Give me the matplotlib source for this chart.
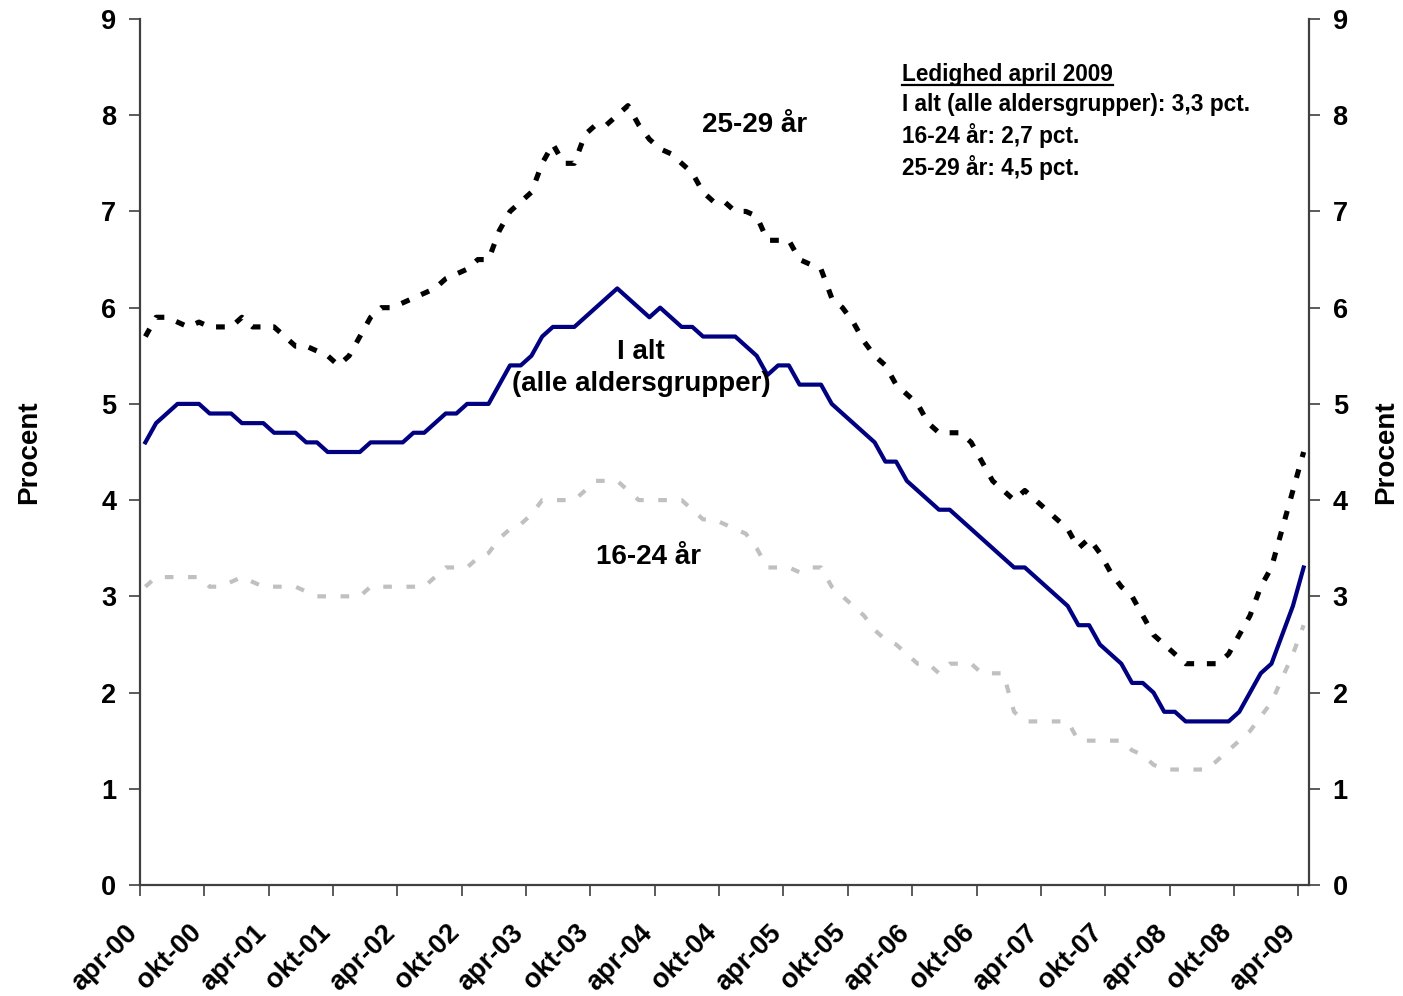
import matplotlib
matplotlib.use("Agg")
import matplotlib.pyplot as plt
import matplotlib.transforms as mtransforms
from matplotlib.lines import Line2D
import numpy as np

plt.rcParams['font.family'] = ['Liberation Sans', 'DejaVu Sans']
plt.rcParams['font.weight'] = 'bold'
plt.rcParams['lines.scale_dashes'] = False

# monthly values, apr-00 .. apr-09
total = [4.6, 4.8, 4.9, 5.0, 5.0, 5.0, 4.9, 4.9, 4.9, 4.8,
         4.8, 4.8, 4.7, 4.7, 4.7, 4.6, 4.6, 4.5, 4.5, 4.5,
         4.5, 4.6, 4.6, 4.6, 4.6, 4.7, 4.7, 4.8, 4.9, 4.9,
         5.0, 5.0, 5.0, 5.2, 5.4, 5.4, 5.5, 5.7, 5.8, 5.8,
         5.8, 5.9, 6.0, 6.1, 6.2, 6.1, 6.0, 5.9, 6.0, 5.9,
         5.8, 5.8, 5.7, 5.7, 5.7, 5.7, 5.6, 5.5, 5.3, 5.4,
         5.4, 5.2, 5.2, 5.2, 5.0, 4.9, 4.8, 4.7, 4.6, 4.4,
         4.4, 4.2, 4.1, 4.0, 3.9, 3.9, 3.8, 3.7, 3.6, 3.5,
         3.4, 3.3, 3.3, 3.2, 3.1, 3.0, 2.9, 2.7, 2.7, 2.5,
         2.4, 2.3, 2.1, 2.1, 2.0, 1.8, 1.8, 1.7, 1.7, 1.7,
         1.7, 1.7, 1.8, 2.0, 2.2, 2.3, 2.6, 2.9, 3.3]

age_25_29 = [5.7, 5.9, 5.9, 5.85, 5.8, 5.85, 5.8, 5.8, 5.8, 5.9,
             5.8, 5.8, 5.8, 5.7, 5.6, 5.6, 5.55, 5.5, 5.4, 5.5,
             5.7, 5.9, 6.0, 6.0, 6.05, 6.1, 6.15, 6.2, 6.3, 6.35,
             6.4, 6.5, 6.5, 6.8, 7.0, 7.1, 7.2, 7.5, 7.7, 7.5,
             7.5, 7.8, 7.9, 7.9, 8.0, 8.1, 7.9, 7.75, 7.65, 7.6,
             7.5, 7.4, 7.2, 7.1, 7.1, 7.0, 7.0, 6.95, 6.7, 6.7,
             6.7, 6.5, 6.45, 6.4, 6.1, 6.0, 5.85, 5.65, 5.5, 5.4,
             5.2, 5.1, 5.0, 4.8, 4.7, 4.7, 4.7, 4.6, 4.4, 4.2,
             4.1, 4.0, 4.1, 4.0, 3.9, 3.8, 3.7, 3.5, 3.6, 3.45,
             3.25, 3.1, 3.0, 2.8, 2.6, 2.5, 2.4, 2.3, 2.3, 2.3,
             2.3, 2.4, 2.6, 2.8, 3.1, 3.3, 3.7, 4.1, 4.5]

age_16_24 = [3.1, 3.2, 3.2, 3.2, 3.2, 3.2, 3.1, 3.1, 3.15, 3.2,
             3.15, 3.1, 3.1, 3.1, 3.1, 3.05, 3.0, 3.0, 3.0, 3.0,
             3.0, 3.1, 3.1, 3.1, 3.1, 3.1, 3.1, 3.2, 3.3, 3.3,
             3.3, 3.4, 3.45, 3.6, 3.7, 3.75, 3.85, 4.0, 4.0, 4.0,
             4.0, 4.1, 4.2, 4.2, 4.2, 4.1, 4.0, 4.0, 4.0, 4.0,
             4.0, 3.9, 3.8, 3.8, 3.75, 3.7, 3.65, 3.5, 3.3, 3.3,
             3.3, 3.25, 3.3, 3.3, 3.1, 3.0, 2.9, 2.8, 2.65, 2.55,
             2.5, 2.4, 2.3, 2.3, 2.2, 2.3, 2.3, 2.3, 2.2, 2.2,
             2.2, 1.8, 1.7, 1.7, 1.7, 1.7, 1.7, 1.5, 1.5, 1.5,
             1.5, 1.5, 1.4, 1.35, 1.25, 1.2, 1.2, 1.2, 1.2, 1.2,
             1.3, 1.4, 1.5, 1.6, 1.75, 1.9, 2.15, 2.4, 2.7]

tick_labels = ['apr-00', 'okt-00', 'apr-01', 'okt-01', 'apr-02', 'okt-02',
               'apr-03', 'okt-03', 'apr-04', 'okt-04', 'apr-05', 'okt-05',
               'apr-06', 'okt-06', 'apr-07', 'okt-07', 'apr-08', 'okt-08',
               'apr-09']

info_lines = ['I alt (alle aldersgrupper): 3,3 pct.',
              '16-24 år: 2,7 pct.',
              '25-29 år: 4,5 pct.']

x = np.arange(len(total))

fig = plt.figure(figsize=(14.03, 9.96), dpi=100)
ax = fig.add_axes([140 / 1403, 111 / 996, 1169 / 1403, 866 / 996])

ax.plot(x, age_16_24, color='#c0c0c0', lw=3.0, dashes=(6.2, 10.5), dash_capstyle='butt')
ax.plot(x, age_25_29, color='black', lw=3.7, dashes=(6.3, 9.2), dash_capstyle='butt')
ax.plot(x, total, color='#000080', lw=3.0)

ax.set_xlim(-0.5, len(total) - 0.5)
ax.set_ylim(0, 9)

spine_col = '#404040'
for s in ['left', 'bottom', 'right']:
    ax.spines[s].set_color(spine_col)
    ax.spines[s].set_linewidth(1.6)
ax.spines['top'].set_visible(False)

# labels sit on the category, tick marks between categories
ax.set_xticks(np.arange(0, len(total), 6))
ax.set_xticklabels(tick_labels, rotation=45, ha='right', rotation_mode='anchor', fontsize=19.5)
ax.tick_params(axis='x', which='major', length=0, pad=25)
ax.set_xticks(np.arange(-0.5, len(total), 6), minor=True)
ax.tick_params(axis='x', which='minor', length=8, width=1.2, color=spine_col, direction='out')
shift = mtransforms.ScaledTranslation(-15 / 72, 0, fig.dpi_scale_trans)
for lab in ax.get_xticklabels():
    lab.set_transform(lab.get_transform() + shift)

ax.set_yticks(range(10))
ax.tick_params(axis='y', which='major', length=8, width=1.2, color=spine_col, direction='out',
               labelsize=19.5, pad=9, right=True, labelright=True)

fig.text(29 / 1403, 1 - 452 / 996, 'Procent', rotation=90, ha='center', va='center', fontsize=20)
fig.text(1386 / 1403, 1 - 452 / 996, 'Procent', rotation=90, ha='center', va='center', fontsize=20)

ax.text(56.8, 7.9, '25-29 år', ha='center', va='center', fontsize=20)
ax.text(46.2, 5.37, 'I alt\n(alle aldersgrupper)', ha='center', va='center',
        multialignment='center', fontsize=20, linespacing=1.3)
ax.text(46.9, 3.41, '16-24 år', ha='center', va='center', fontsize=20)

# box with april 2009 figures
x0 = (902 - 140) / 1169
head = ax.text(x0, (885 - 75) / 866, 'Ledighed april 2009', transform=ax.transAxes,
               ha='left', va='center', fontsize=16.3)
for line, ypix in zip(info_lines, [105, 135, 168]):
    ax.text(x0, (885 - ypix) / 866, line, transform=ax.transAxes,
            ha='left', va='center', fontsize=16.3)

fig.canvas.draw()
bb = head.get_window_extent()
W, H = fig.canvas.get_width_height()
fig.add_artist(Line2D([bb.x0 / W, bb.x1 / W], [(bb.y0 + 1) / H, (bb.y0 + 1) / H],
                      transform=fig.transFigure, color='black', lw=1.6))

fig.savefig('out.png', dpi=100)
